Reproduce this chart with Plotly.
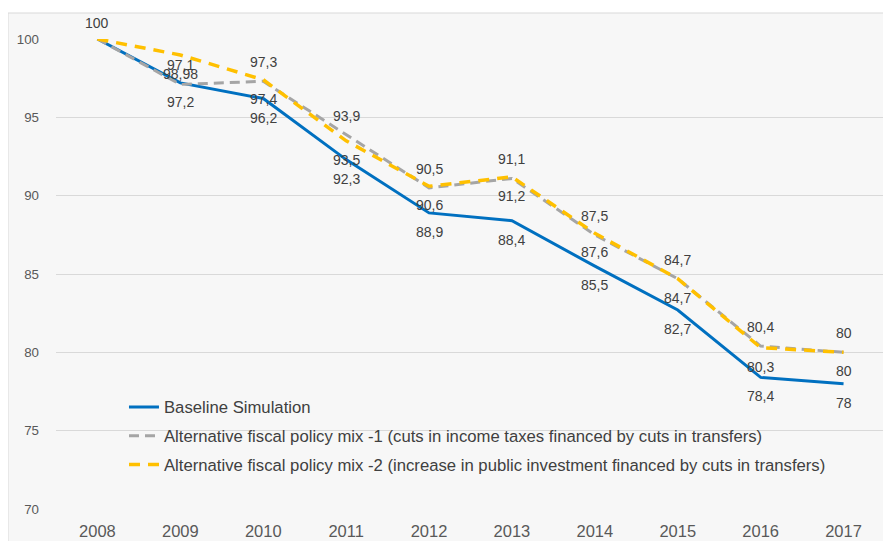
import plotly.graph_objects as go

years = ['2008', '2009', '2010', '2011', '2012', '2013', '2014', '2015', '2016', '2017']
baseline = [100, 97.2, 96.2, 92.3, 88.9, 88.4, 85.5, 82.7, 78.4, 78]
mix1 = [100, 97.1, 97.3, 93.9, 90.5, 91.1, 87.5, 84.7, 80.4, 80]
mix2 = [100, 98.98, 97.4, 93.5, 90.6, 91.2, 87.6, 84.7, 80.3, 80]

names = ['Baseline Simulation',
         'Alternative fiscal policy mix -1 (cuts in income taxes financed by cuts in transfers)',
         'Alternative fiscal policy mix -2 (increase in public investment financed by cuts in transfers)']

FONT = 'Liberation Sans, Arial, sans-serif'


def fmt(v):
    return '{0:g}'.format(v).replace('.', ',')


fig = go.Figure()
fig.add_trace(go.Scatter(x=years, y=baseline, mode='lines', name=names[0],
                         line={'color': '#0070C0', 'width': 3},
                         legendgroup='a'))
fig.add_trace(go.Scatter(x=years, y=mix1, mode='lines', name=names[1],
                         line={'color': '#A5A5A5', 'width': 3, 'dash': '10px,6px'},
                         legendgroup='b'))
fig.add_trace(go.Scatter(x=years, y=mix2, mode='lines', name=names[2],
                         line={'color': '#FFC000', 'width': 3.5, 'dash': '11px,8px'},
                         legendgroup='c'))

# data labels: baseline and mix-2 below the line, mix-1 above
# (x given as category index so autorange is not thrown off)
for i, yr in enumerate(years):
    lab = [(baseline[i], -19), (mix1[i], 19), (mix2[i], -19)]
    if i == 0:
        lab = [(mix1[i], 16)]
    for v, shift in lab:
        fig.add_annotation(x=i, y=v, text=fmt(v), showarrow=False,
                           yshift=shift,
                           font={'family': FONT, 'size': 14, 'color': '#404040'})

# chart area frame
fig.add_shape(type='rect', xref='paper', yref='paper', layer='below',
              x0=-48 / 829, x1=1.02, y0=-0.1, y1=1 + 26 / 470,
              line={'color': '#D9D9D9', 'width': 1}, fillcolor='#F7F7F7')

# the page body adds an 8px margin, so the figure is 8px smaller each way
fig.update_layout(
    width=883, height=533,
    margin={'l': 48, 'r': 6, 't': 31, 'b': 32, 'autoexpand': False},
    paper_bgcolor='white',
    plot_bgcolor='rgba(0,0,0,0)',
    font={'family': FONT, 'size': 15, 'color': '#595959'},
    showlegend=True,
    legend={'x': 0.082, 'y': 0.254, 'xanchor': 'left', 'yanchor': 'top',
            'bgcolor': 'rgba(0,0,0,0)', 'tracegroupgap': 4,
            'font': {'family': FONT, 'size': 16.7, 'color': '#404040'}},
    xaxis={'type': 'category', 'range': [-0.5, 9.5], 'showgrid': False,
           'zeroline': False, 'showline': False, 'ticks': '',
           'ticklabelstandoff': 10, 'automargin': False,
           'tickfont': {'size': 16.5}},
    yaxis={'range': [70, 100], 'dtick': 5, 'showgrid': True,
           'gridcolor': '#D9D9D9', 'zeroline': False, 'ticks': '',
           'automargin': False,
           'ticklabelstandoff': 16, 'tickfont': {'size': 13.3}},
)
for tr in fig.data:
    tr.cliponaxis = False

fig.write_html('out.html')
